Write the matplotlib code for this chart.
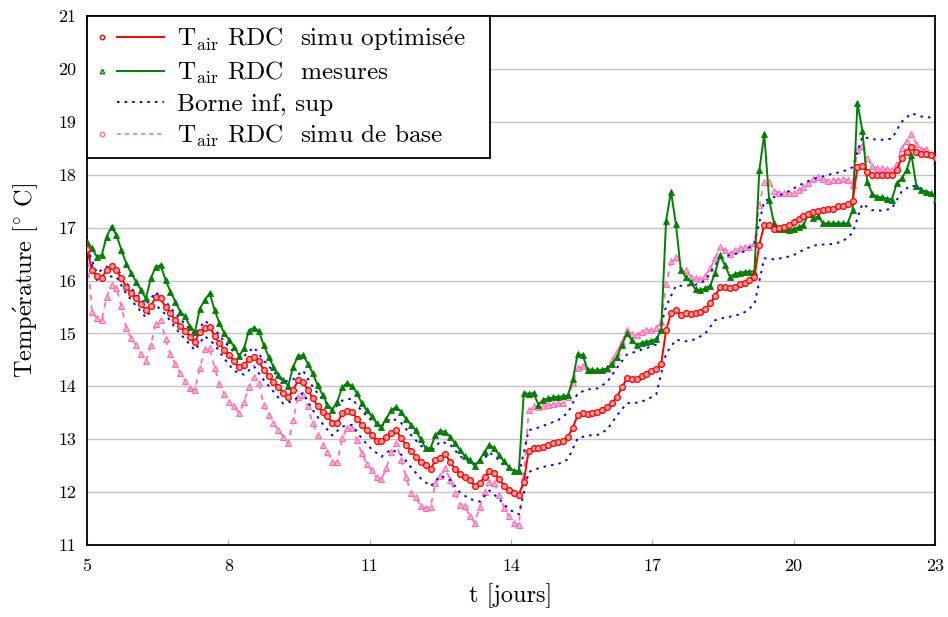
import numpy as np
import matplotlib
matplotlib.use("Agg")
import matplotlib.pyplot as plt
from matplotlib.lines import Line2D
from matplotlib.legend_handler import HandlerBase

plt.rcParams['font.family'] = ['cmr10', 'DejaVu Serif']
plt.rcParams['mathtext.fontset'] = 'cm'
plt.rcParams['axes.unicode_minus'] = False

# ---------------- data (one value every 2.5 h, starting at day 5) ----------------
step_h = 2.5

t_air_opt = [
    16.60, 16.20, 16.09, 16.05, 16.20, 16.28, 16.19, 16.04, 15.88, 15.76,
    15.66, 15.56, 15.44, 15.52, 15.68, 15.66, 15.50, 15.38, 15.25, 15.14,
    15.05, 14.94, 14.84, 15.03, 15.11, 15.13, 14.95, 14.81, 14.69, 14.59,
    14.47, 14.36, 14.40, 14.51, 14.56, 14.47, 14.31, 14.19, 14.09, 13.98,
    13.88, 13.79, 13.93, 14.11, 14.09, 13.93, 13.77, 13.63, 13.52, 13.43,
    13.31, 13.30, 13.49, 13.54, 13.52, 13.39, 13.27, 13.17, 13.08, 12.97,
    12.96, 13.05, 13.11, 13.17, 13.02, 12.89, 12.78, 12.67, 12.57, 12.51,
    12.43, 12.61, 12.64, 12.72, 12.57, 12.43, 12.34, 12.29, 12.22, 12.12,
    12.17, 12.29, 12.39, 12.37, 12.24, 12.12, 12.04, 11.98, 11.95, 12.20,
    12.78, 12.83, 12.83, 12.86, 12.89, 12.92, 12.95, 12.97, 13.05, 13.22,
    13.46, 13.50, 13.48, 13.49, 13.52, 13.55, 13.60, 13.69, 13.80, 13.98,
    14.15, 14.13, 14.13, 14.19, 14.23, 14.28, 14.32, 14.43, 15.06, 15.38,
    15.45, 15.35, 15.38, 15.37, 15.38, 15.41, 15.47, 15.57, 15.71, 15.87,
    15.87, 15.85, 15.88, 15.93, 15.96, 16.01, 16.06, 16.68, 17.05, 17.05,
    16.97, 16.99, 17.01, 17.05, 17.11, 17.16, 17.21, 17.26, 17.30, 17.32,
    17.33, 17.35, 17.36, 17.40, 17.41, 17.45, 17.50, 18.14, 18.16, 18.06,
    17.99, 17.99, 17.99, 17.99, 17.99, 18.09, 18.31, 18.43, 18.53, 18.43,
    18.40, 18.39, 18.37, 18.31]

t_air_mes = [
    16.73, 16.61, 16.45, 16.48, 16.83, 17.02, 16.86, 16.58, 16.32, 16.14,
    15.98, 15.82, 15.66, 16.04, 16.26, 16.29, 16.01, 15.79, 15.60, 15.41,
    15.32, 15.13, 15.03, 15.47, 15.63, 15.76, 15.44, 15.19, 15.00, 14.88,
    14.75, 14.57, 14.72, 15.05, 15.11, 15.05, 14.78, 14.56, 14.37, 14.21,
    14.12, 14.01, 14.37, 14.57, 14.59, 14.43, 14.25, 14.02, 13.84, 13.65,
    13.56, 13.71, 13.98, 14.06, 14.01, 13.87, 13.68, 13.55, 13.44, 13.30,
    13.24, 13.39, 13.55, 13.61, 13.52, 13.39, 13.27, 13.17, 13.00, 12.83,
    12.83, 13.08, 13.16, 13.14, 13.05, 12.92, 12.80, 12.68, 12.61, 12.49,
    12.61, 12.76, 12.89, 12.83, 12.70, 12.58, 12.47, 12.40, 12.40, 13.87,
    13.86, 13.87, 13.65, 13.75, 13.77, 13.79, 13.80, 13.81, 13.83, 14.13,
    14.62, 14.59, 14.31, 14.30, 14.30, 14.31, 14.34, 14.43, 14.56, 14.78,
    15.00, 14.88, 14.78, 14.82, 14.84, 14.86, 14.89, 15.06, 17.13, 17.68,
    17.07, 16.20, 16.07, 15.98, 15.83, 15.82, 15.85, 15.90, 16.15, 16.48,
    16.29, 16.07, 16.12, 16.15, 16.16, 16.17, 16.17, 18.08, 18.77, 17.53,
    17.08, 16.97, 16.97, 16.95, 16.97, 17.01, 17.05, 17.26, 17.18, 17.21,
    17.08, 17.08, 17.08, 17.08, 17.08, 17.08, 17.33, 19.36, 18.83, 17.87,
    17.64, 17.58, 17.57, 17.55, 17.53, 17.84, 17.93, 18.09, 18.37, 17.79,
    17.71, 17.68, 17.65, 17.55]

t_air_base = [
    16.55, 15.41, 15.29, 15.25, 15.69, 15.91, 15.85, 15.51, 15.10, 14.91,
    14.78, 14.62, 14.48, 14.78, 15.18, 15.25, 14.89, 14.62, 14.42, 14.25,
    14.10, 13.97, 13.93, 14.35, 14.70, 14.72, 14.35, 14.05, 13.85, 13.70,
    13.62, 13.49, 13.71, 13.99, 14.18, 14.06, 13.65, 13.46, 13.30, 13.17,
    13.05, 12.92, 13.36, 13.80, 13.84, 13.62, 13.30, 13.08, 12.89, 12.76,
    12.57, 12.56, 13.02, 13.21, 13.21, 12.98, 12.73, 12.54, 12.42, 12.28,
    12.24, 12.45, 12.75, 12.93, 12.61, 12.29, 11.98, 11.90, 11.74, 11.70,
    11.72, 12.17, 12.30, 12.45, 12.23, 11.98, 11.76, 11.74, 11.55, 11.42,
    11.71, 12.01, 12.20, 12.17, 11.95, 11.69, 11.54, 11.42, 11.38, 12.30,
    13.55, 13.63, 13.60, 13.63, 13.65, 13.67, 13.68, 13.68, 13.80, 14.06,
    14.34, 14.38, 14.31, 14.30, 14.31, 14.31, 14.32, 14.50, 14.65, 14.84,
    15.06, 14.99, 14.97, 15.03, 15.06, 15.06, 15.10, 15.22, 15.93, 16.36,
    16.44, 16.20, 16.20, 16.07, 16.04, 16.02, 16.09, 16.23, 16.42, 16.63,
    16.58, 16.51, 16.58, 16.61, 16.63, 16.64, 16.70, 17.43, 17.87, 17.87,
    17.70, 17.66, 17.65, 17.65, 17.66, 17.71, 17.77, 17.84, 17.91, 17.96,
    17.91, 17.89, 17.90, 17.90, 17.91, 17.90, 17.80, 18.47, 18.54, 18.31,
    18.16, 18.12, 18.12, 18.11, 18.09, 18.21, 18.50, 18.64, 18.77, 18.58,
    18.48, 18.48, 18.39, 18.25]

# bounds, one value every 5 h
borne_sup = [
    16.62, 16.14, 16.26, 16.25, 15.95, 15.76, 15.54, 15.78, 15.61, 15.37,
    15.18, 14.97, 15.24, 15.09, 14.84, 14.64, 14.57, 14.74, 14.49, 14.28,
    14.08, 14.13, 14.30, 13.99, 13.75, 13.55, 13.73, 13.77, 13.53, 13.35,
    13.24, 13.40, 13.31, 13.08, 12.88, 12.75, 12.96, 12.90, 12.68, 12.56,
    12.52, 12.75, 12.60, 12.40, 12.32, 13.17, 13.22, 13.29, 13.36, 13.50,
    13.87, 13.94, 13.96, 14.08, 14.35, 14.60, 14.66, 14.72, 14.79, 15.51,
    15.90, 15.90, 15.92, 16.00, 16.30, 16.46, 16.50, 16.55, 16.70, 17.50,
    17.58, 17.64, 17.74, 17.84, 17.92, 17.97, 18.02, 18.06, 18.14, 18.72,
    18.67, 18.66, 18.68, 19.00, 19.16, 19.10, 19.08]

borne_inf = [
    16.58, 16.01, 16.08, 16.07, 15.75, 15.52, 15.30, 15.54, 15.36, 15.10,
    14.89, 14.68, 14.95, 14.79, 14.52, 14.29, 14.22, 14.38, 14.12, 13.90,
    13.67, 13.72, 13.88, 13.55, 13.29, 13.07, 13.24, 13.27, 13.01, 12.81,
    12.67, 12.81, 12.71, 12.47, 12.26, 12.11, 12.31, 12.23, 11.99, 11.87,
    11.82, 12.03, 11.87, 11.67, 11.58, 12.38, 12.45, 12.50, 12.53, 12.62,
    13.02, 13.07, 13.08, 13.18, 13.45, 13.68, 13.69, 13.74, 13.85, 14.62,
    14.88, 14.85, 14.89, 15.00, 15.25, 15.30, 15.33, 15.40, 15.55, 16.42,
    16.40, 16.43, 16.48, 16.58, 16.66, 16.68, 16.69, 16.74, 16.90, 17.45,
    17.33, 17.32, 17.36, 17.68, 17.80, 17.74, 17.64]

x_ticks = [5, 8, 11, 14, 17, 20, 23]
x_tick_labels = ['5', '8', '11', '14', '17', '20', '23']
y_ticks = [11, 12, 13, 14, 15, 16, 17, 18, 19, 20, 21]
y_tick_labels = ['11', '12', '13', '14', '15', '16', '17', '18', '19', '20', '21']

E_ACUTE = r'$\mathrm{\acute{e}}$'
labels = [r'$\mathrm{T_{air}}$ RDC  simu optimis' + E_ACUTE + 'e',
          r'$\mathrm{T_{air}}$ RDC  mesures',
          'Borne inf, sup',
          r'$\mathrm{T_{air}}$ RDC  simu de base']
x_label = 't [jours]'
y_label = 'Temp' + E_ACUTE + r'rature [$^{\circ}$ C]'

# ---------------- plotting ----------------
t = 5 + np.arange(len(t_air_opt)) * step_h / 24.0
tb = 5 + np.arange(len(borne_sup)) * 2 * step_h / 24.0

RED = '#ff0000'
GREEN = '#008000'
BLUE = '#0000ff'
PINK = '#ff6eb4'

fig = plt.figure(figsize=(9.48, 6.17), dpi=100)
ax = fig.add_axes([87 / 948, 72 / 617, 848 / 948, 529 / 617])

ax.plot(t, t_air_base, color=PINK, lw=1.3, ls=(0, (3, 3)), marker='^', ms=4.6,
        mfc='#ffaed6', mec=PINK, mew=0.8, zorder=2)
ax.plot(tb, borne_sup, color=BLUE, lw=1.4, ls=(0, (1.3, 2.6)), zorder=3)
ax.plot(tb, borne_inf, color=BLUE, lw=1.4, ls=(0, (1.3, 2.6)), zorder=3)
ax.plot(t, t_air_mes, color=GREEN, lw=1.4, marker='^', ms=4.4,
        mfc=GREEN, mec=GREEN, mew=0.6, zorder=4)
ax.plot(t, t_air_opt, color=RED, lw=1.4, marker='o', ms=4.2,
        mfc='#ff9a9a', mec=RED, mew=0.9, zorder=5)

ax.set_xlim(5, 23)
ax.set_ylim(11, 21)
ax.set_xticks(x_ticks)
ax.set_xticklabels(x_tick_labels)
ax.set_yticks(y_ticks)
ax.set_yticklabels(y_tick_labels)
ax.tick_params(axis='both', direction='in', length=4, width=0.8, color='#b0b0b0',
               labelsize=13, top=False, right=False)
ax.tick_params(axis='x', pad=10)
ax.tick_params(axis='y', pad=8, length=0)
ax.yaxis.grid(True, color='#c4c4c4', lw=1.0)
ax.xaxis.grid(False)
ax.set_axisbelow(True)
for s in ax.spines.values():
    s.set_linewidth(1.3)
    s.set_color('black')

ax.set_xlabel(x_label, fontsize=17.5)
ax.set_ylabel(y_label, fontsize=17.5)
ax.xaxis.set_label_coords(0.5, -0.073)
ax.yaxis.set_label_coords(-0.055, 0.5)


class MarkerLineHandler(HandlerBase):
    def __init__(self, line_kw, marker_kw=None):
        super().__init__()
        self.line_kw = line_kw
        self.marker_kw = marker_kw

    def create_artists(self, legend, orig_handle, xdescent, ydescent, width,
                       height, fontsize, trans):
        y = height / 2.0 - ydescent
        x0 = -xdescent
        arts = []
        if self.marker_kw is not None:
            m = Line2D([x0 + 0.09 * width], [y], ls='none', **self.marker_kw)
            m.set_transform(trans)
            arts.append(m)
        ln = Line2D([x0 + 0.31 * width, x0 + width], [y, y], **self.line_kw)
        ln.set_transform(trans)
        arts.append(ln)
        return arts


handles = [Line2D([], []) for _ in range(4)]
hmap = {
    handles[0]: MarkerLineHandler(dict(color=RED, lw=1.4),
                                  dict(marker='o', ms=3.2, mfc='white', mec=RED, mew=1.0)),
    handles[1]: MarkerLineHandler(dict(color=GREEN, lw=1.4),
                                  dict(marker='^', ms=3.2, mfc='white', mec=GREEN, mew=1.0)),
    handles[2]: MarkerLineHandler(dict(color=BLUE, lw=1.4, ls=(0, (1.3, 2.6)))),
    handles[3]: MarkerLineHandler(dict(color=PINK, lw=1.3, ls=(0, (2, 2.5))),
                                  dict(marker='o', ms=3.2, mfc='white', mec=PINK, mew=1.0)),
}
leg = ax.legend(handles, labels, handler_map=hmap, loc='upper left',
                bbox_to_anchor=(0, 1, 403 / 848, 0), mode='expand',
                borderaxespad=0, fontsize=18.2,
                handlelength=2.7, handletextpad=0.5, borderpad=0.35,
                labelspacing=0.28, fancybox=False, framealpha=1,
                edgecolor='black')
leg.get_frame().set_linewidth(1.3)
leg.set_zorder(10)

fig.savefig('out.png', dpi=100)
